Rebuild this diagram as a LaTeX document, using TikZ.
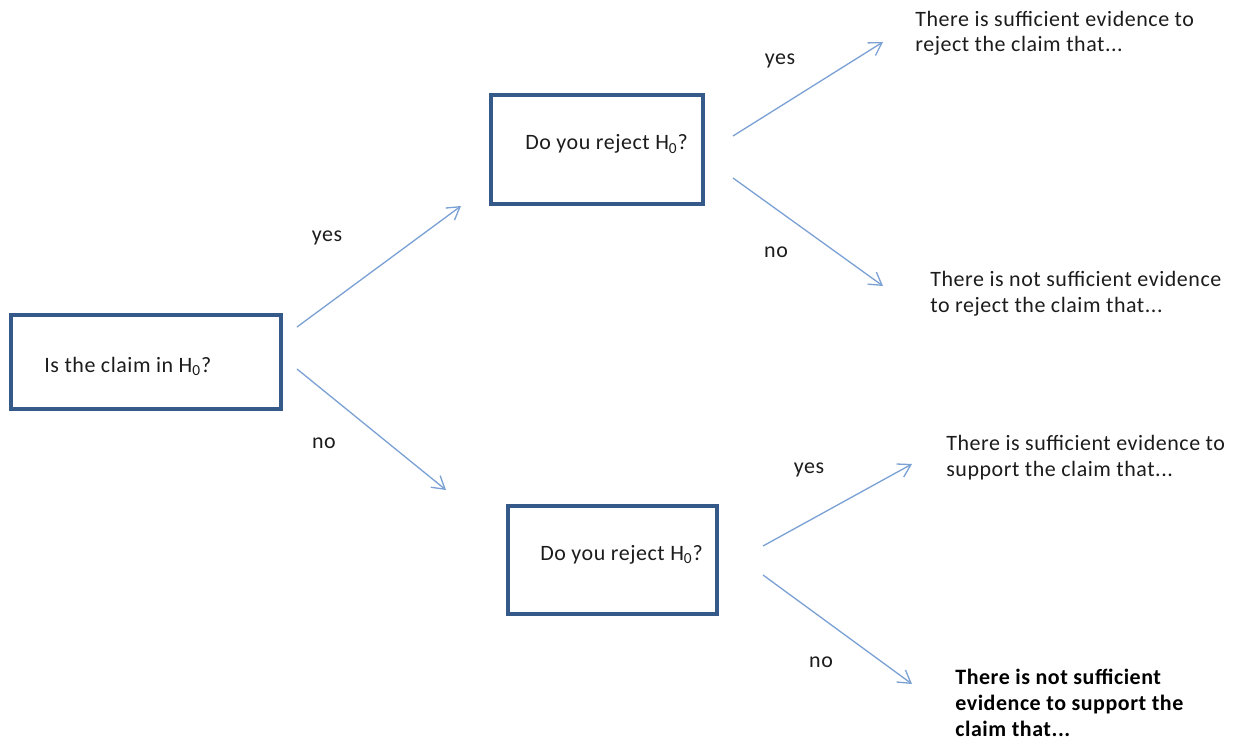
\documentclass[tikz,border=0pt]{standalone}
\usepackage{fontspec}
\setmainfont{Carlito}[LetterSpace=2.5]
\usepackage{xcolor}
\definecolor{treeBox}{HTML}{355A89}
\definecolor{treeArrow}{HTML}{7BA1D4}
\definecolor{treeText}{HTML}{1C1C1C}
\usepackage{tikz}
\usetikzlibrary{arrows.meta,positioning}

\begin{document}
\begin{tikzpicture}[x=0.02cm,y=-0.02cm,>={Straight Barb[length=7pt,width=8.5pt]},
  font=\fontsize{12.5}{14.7}\selectfont,text=treeText,
  qbox/.style={draw=treeBox,line width=2pt,inner sep=0pt},
  branch/.style={->,treeArrow,line width=0.75pt},
  verdict/.style={anchor=base west,align=left,inner sep=0pt}]
  \path[use as bounding box] (0,0) rectangle (1238,740);

  % question boxes
  \node[qbox,minimum width=5.4cm,minimum height=1.88cm] (qA) at (146,362) {};
  \node[anchor=base west,inner sep=0pt] (qAtxt) at (44,372) {Is the claim in H\textsubscript{0}?};
  \node[qbox,minimum width=4.24cm,minimum height=2.18cm] (qB) at (597,149.5) {};
  \node[anchor=base west,inner sep=0pt] (qBtxt) at (525,150) {Do you reject H\textsubscript{0}?};
  \node[qbox,minimum width=4.18cm,minimum height=2.16cm] (qC) at (612.5,560) {};
  \node[anchor=base west,inner sep=0pt] (qCtxt) at (540,560) {Do you reject H\textsubscript{0}?};

  % outcomes (anchored at the last line)
  \node[verdict] (rejYes) at (915,52) {There is sufficient evidence to\\reject the claim that...};
  \node[verdict] (rejNo) at (930,312) {There is not sufficient evidence\\to reject the claim that...};
  \node[verdict] (supYes) at (946,476) {There is sufficient evidence to\\support the claim that...};
  \node[verdict,font=\fontsize{12.5}{14.7}\selectfont\bfseries,text=black] (supNo) at (955,736) {There is not sufficient\\evidence to support the\\claim that...};

  % arrow ends
  \coordinate (aYes0) at (297,327);  \coordinate (aYes1) at (461,206);
  \coordinate (aNo0) at (297,369);   \coordinate (aNo1) at (446,490);
  \coordinate (bYes0) at (733,136);  \coordinate (bYes1) at (883,42);
  \coordinate (bNo0) at (733,178);   \coordinate (bNo1) at (883,286);
  \coordinate (cYes0) at (763,546);  \coordinate (cYes1) at (912,464);
  \coordinate (cNo0) at (763,575);   \coordinate (cNo1) at (912,684);

  \draw[branch] (aYes0) -- (aYes1);
  \draw[branch] (aNo0) -- (aNo1);
  \draw[branch] (bYes0) -- (bYes1);
  \draw[branch] (bNo0) -- (bNo1);
  \draw[branch] (cYes0) -- (cYes1);
  \draw[branch] (cNo0) -- (cNo1);

  \node (aYesLbl) at (327,238) {yes};
  \node (aNoLbl) at (324,443) {no};
  \node (bYesLbl) at (780,61) {yes};
  \node (bNoLbl) at (776,252) {no};
  \node (cYesLbl) at (809,470) {yes};
  \node (cNoLbl) at (821,662) {no};
\end{tikzpicture}
\end{document}
